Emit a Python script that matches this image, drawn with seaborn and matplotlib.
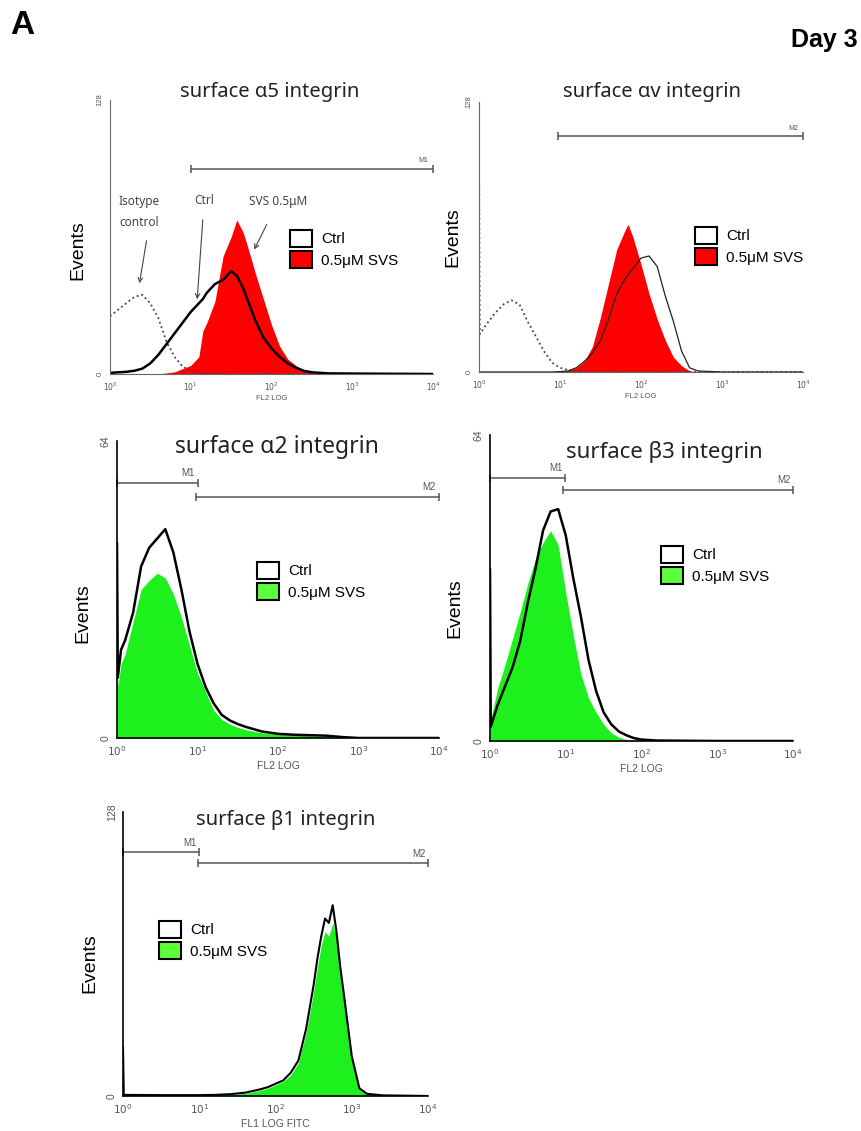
import numpy as np
import seaborn as sns
import matplotlib
matplotlib.use('Agg')
import matplotlib.pyplot as plt
from matplotlib.patches import Patch
from matplotlib.ticker import LogLocator, NullFormatter

# channel positions (log10 of fluorescence) and event counts
a5_log = [0.0, 0.1, 0.2, 0.3, 0.4, 0.5, 0.6, 0.7, 0.8, 0.9, 1.0, 1.1, 1.15, 1.2, 1.3, 1.4,
          1.5, 1.57, 1.65, 1.7, 1.8, 1.9, 2.0, 2.1, 2.2, 2.3, 2.4, 2.5, 2.7, 3.0, 4.0]
a5_iso = [27, 30, 33, 36, 37, 33, 26, 15, 8, 3.5, 1.5, 0.5, 0.3, 0.2, 0, 0,
          0, 0, 0, 0, 0, 0, 0, 0, 0, 0, 0, 0, 0, 0, 0]
a5_ctrl = [0.5, 0.8, 1, 1.5, 2.5, 5, 9, 14, 19, 24, 29, 33, 35, 38, 42, 44,
           48, 46, 40, 35, 25, 17, 12, 8, 5, 3, 1.5, 0.8, 0.3, 0.2, 0]
a5_svs = [0, 0, 0, 0, 0, 0, 0, 0.5, 1, 2.5, 4, 8, 20, 24, 34, 55,
          64, 72, 66, 60, 47, 35, 23, 13, 7, 4, 1.5, 0.5, 0, 0, 0]

av_log = [0.0, 0.01, 0.1, 0.2, 0.3, 0.4, 0.5, 0.6, 0.7, 0.8, 0.9, 1.0, 1.1, 1.2, 1.3, 1.4,
          1.5, 1.6, 1.7, 1.8, 1.84, 1.9, 2.0, 2.1, 2.2, 2.3, 2.4, 2.5, 2.6, 2.7, 3.0, 4.0]
av_iso = [107, 18, 23, 28, 32, 34, 32, 24, 17, 10, 4.5, 2, 1, 0.5, 0, 0,
          0, 0, 0, 0, 0, 0, 0, 0, 0, 0, 0, 0, 0, 0, 0, 0]
av_ctrl = [0, 0, 0, 0, 0, 0, 0, 0, 0, 0, 0, 0.2, 0.5, 2, 5, 9,
           15, 25, 37, 44, 46, 49, 54, 55, 50, 36, 24, 10, 2, 0.5, 0, 0]
av_svs = [0, 0, 0, 0, 0, 0, 0, 0, 0, 0, 0, 0.2, 0.8, 2, 5, 12,
          26, 42, 58, 67, 70, 64, 51, 37, 25, 15, 7, 3, 0.5, 0, 0, 0]

a2_log = [0.0, 0.01, 0.05, 0.1, 0.2, 0.3, 0.4, 0.5, 0.6, 0.7, 0.8, 0.9, 1.0, 1.1,
          1.2, 1.3, 1.4, 1.5, 1.6, 1.8, 2.0, 2.2, 2.4, 2.6, 2.8, 3.0, 4.0]
a2_ctrl = [42, 13, 19, 21, 27, 37, 41, 43, 45, 40, 32, 23, 16, 11,
           7.5, 5, 3.8, 3, 2.4, 1.4, 0.9, 0.7, 0.6, 0.5, 0.2, 0, 0]
a2_svs = [30, 11, 16, 18, 25, 32, 34, 35.5, 34.5, 31, 26, 20, 14, 10,
          6, 4, 3, 2.3, 1.8, 1.1, 0.8, 0.6, 0.5, 0.3, 0.1, 0, 0]

b3_log = [0.0, 0.01, 0.1, 0.2, 0.3, 0.4, 0.5, 0.6, 0.7, 0.8, 0.9, 1.0, 1.1,
          1.2, 1.3, 1.4, 1.5, 1.6, 1.7, 1.8, 1.9, 2.0, 2.2, 3.0, 4.0]
b3_ctrl = [36, 3, 7.5, 11.5, 15.5, 21, 29, 36, 44, 48, 48.5, 43, 34,
           26, 17, 10.5, 6, 3.5, 2, 1.2, 0.6, 0.3, 0.1, 0, 0]
b3_svs = [20, 4.5, 11, 16, 21.5, 27, 33, 38, 41.5, 44, 41, 31, 22,
          14, 9, 6, 3.5, 1.7, 0.8, 0.3, 0.1, 0, 0, 0, 0]

b1_log = [0.0, 0.01, 0.5, 1.0, 1.2, 1.4, 1.6, 1.8, 1.9, 2.0, 2.1, 2.2, 2.3, 2.4,
          2.5, 2.55, 2.6, 2.65, 2.7, 2.75, 2.8, 2.85, 2.9, 3.0, 3.1, 3.2, 3.4, 4.0]
b1_ctrl = [22, 0.5, 0.4, 0.4, 0.5, 0.8, 1.5, 3, 4, 5.5, 7, 10.5, 16, 30,
           50, 62, 72, 80, 78, 86, 74, 58, 45, 18, 3.5, 1, 0.3, 0]
b1_svs = [0, 0.3, 0.3, 0.3, 0.4, 0.6, 1.2, 2.5, 3.5, 5, 6.5, 9.5, 15, 28,
          47, 58, 68, 74, 72, 78, 72, 57, 44, 17, 3, 0.8, 0.2, 0]

decade_labels = ['$10^0$', '$10^1$', '$10^2$', '$10^3$', '$10^4$']
legend_labels = ['Ctrl', '0.5\u03bcM SVS']

RED = '#ff0000'
GREEN = '#1ef01e'
GREEN_KEY = '#5cff3c'

sns.set_style('white')
plt.rcParams['font.family'] = ['Liberation Sans', 'DejaVu Sans']
plt.rcParams['text.color'] = 'black'
TITLE_FONT = ['Noto Sans', 'DejaVu Sans']

W, H = 861, 1131
fig = plt.figure(figsize=(W / 100, H / 100), dpi=100)


def fpos(x, y):
    return (x / W, 1 - y / H)


def add_box(x0, y0, x1, y1):
    return fig.add_axes([x0 / W, 1 - y1 / H, (x1 - x0) / W, (y1 - y0) / H])


def style_axes(ax, ymax, fs, xlabel, spine_col, spine_lw):
    ax.set_xscale('log')
    ax.set_xlim(1, 1e4)
    ax.set_ylim(0, ymax)
    ax.set_facecolor('none')
    ax.grid(False)
    for s in ['top', 'right']:
        ax.spines[s].set_visible(False)
    for s in ['left', 'bottom']:
        ax.spines[s].set_color(spine_col)
        ax.spines[s].set_linewidth(spine_lw)
    ax.set_xticks([1, 10, 100, 1000, 10000])
    ax.set_xticklabels(decade_labels)
    ax.xaxis.set_minor_locator(LogLocator(base=10, subs=np.arange(2, 10), numticks=20))
    ax.xaxis.set_minor_formatter(NullFormatter())
    yt = np.linspace(0, ymax, 5)
    ax.set_yticks(yt)
    ax.set_yticklabels(['0', '', '', '', str(ymax)])
    ax.tick_params(which='major', direction='out', length=3, width=0.8,
                   color=spine_col, labelsize=fs, labelcolor='#555', pad=1.5)
    ax.tick_params(which='minor', direction='out', length=1.6, width=0.6, color=spine_col)
    for lbl in ax.get_yticklabels():
        lbl.set_rotation(90)
        lbl.set_va('center')
    ax.set_xlabel(xlabel, fontsize=fs, color='#555', labelpad=2)
    ax.set_ylabel('')


def hist_line(ax, xlog, y, **kw):
    sns.lineplot(x=10 ** np.asarray(xlog), y=y, ax=ax, legend=False, **kw)


def hist_fill(ax, xlog, y, color):
    ax.fill_between(10 ** np.asarray(xlog), y, color=color, lw=0)


def gate(ax, x0, x1, y, label, fs, ymax):
    ax.plot([10 ** x0, 10 ** x1], [y, y], color='#555', lw=1.1, marker='|',
            markersize=6, markeredgewidth=1.1, clip_on=False)
    ax.text(10 ** (x1 - 0.12), y + ymax * 0.015, label, ha='center', va='bottom',
            fontsize=fs, color='#555')


def key(x, y, fill):
    handles = [Patch(facecolor='white', edgecolor='black', lw=1.5),
               Patch(facecolor=fill, edgecolor='black', lw=1.5)]
    fig.legend(handles, legend_labels, loc='upper left', bbox_to_anchor=fpos(x, y),
               frameon=False, fontsize=11, handlelength=1.45, handleheight=1.3,
               handletextpad=0.6, labelspacing=0.3, borderpad=0, borderaxespad=0,
               labelcolor='black')


def events(x, y):
    fig.text(*fpos(x, y), 'Events', rotation=90, ha='center', va='center',
             fontsize=14, color='black')


def title(x, y, text, size):
    fig.text(*fpos(x, y), text, ha='center', va='center', fontsize=size,
             family=TITLE_FONT, color='#222')


# header
fig.text(*fpos(10, 26), 'A', fontsize=24, fontweight='bold', ha='left', va='center',
         color='black')
fig.text(*fpos(858, 40), 'Day 3', fontsize=18, fontweight='bold', ha='right', va='center',
         color='black')

# surface a5 integrin
ax = add_box(110, 100, 433, 374)
hist_fill(ax, a5_log, a5_svs, RED)
hist_line(ax, a5_log, a5_iso, color='#444', linewidth=1.3, linestyle=':')
hist_line(ax, a5_log, a5_ctrl, color='black', linewidth=1.8)
style_axes(ax, 128, 5.5, 'FL2 LOG', '#666', 0.8)
gate(ax, 1.0, 4.0, 96, 'M1', 5, 128)
title(270, 92, 'surface \u03b15 integrin', 14.5)
events(78, 250)
key(290, 230, RED)
note = dict(fontsize=8.5, color='#444', family=TITLE_FONT, ha='center', va='center')
fig.text(*fpos(139, 201), 'Isotype', **note)
fig.text(*fpos(139, 222), 'control', **note)
fig.text(*fpos(204, 201), 'Ctrl', **note)
fig.text(*fpos(278, 201), 'SVS 0.5\u03bcM', **note)
arrow = dict(arrowstyle='->', color='#444', lw=0.8, mutation_scale=8)
for start, end in [((147, 238), (139, 286)), ((203, 217), (197, 302)),
                   ((268, 222), (253, 252))]:
    ax.annotate('', xy=fpos(*end), xycoords='figure fraction',
                xytext=fpos(*start), textcoords='figure fraction', arrowprops=arrow)

# surface av integrin
ax = add_box(479, 102, 803, 372)
hist_fill(ax, av_log, av_svs, RED)
hist_line(ax, av_log, av_iso, color='#444', linewidth=1.3, linestyle=':')
hist_line(ax, av_log, av_ctrl, color='#222', linewidth=0.9)
style_axes(ax, 128, 5.5, 'FL2 LOG', '#666', 0.8)
gate(ax, 0.97, 4.0, 112, 'M2', 5, 128)
title(652, 92, 'surface \u03b1v integrin', 14.5)
events(453, 237)
key(695, 227, RED)

# surface a2 integrin
ax = add_box(117, 441, 439, 738)
hist_fill(ax, a2_log, a2_svs, GREEN)
hist_line(ax, a2_log, a2_ctrl, color='black', linewidth=1.8)
style_axes(ax, 64, 7.5, 'FL2 LOG', 'black', 1.2)
gate(ax, 0.0, 1.0, 55, 'M1', 7, 64)
gate(ax, 0.98, 4.0, 52, 'M2', 7, 64)
title(277, 447, 'surface \u03b12 integrin', 16.5)
events(83, 613)
key(257, 562, GREEN_KEY)

# surface b3 integrin
ax = add_box(490, 435, 793, 741)
hist_fill(ax, b3_log, b3_svs, GREEN)
hist_line(ax, b3_log, b3_ctrl, color='black', linewidth=1.8)
style_axes(ax, 64, 7.5, 'FL2 LOG', 'black', 1.2)
gate(ax, 0.0, 0.99, 55, 'M1', 7, 64)
gate(ax, 0.97, 4.0, 52.5, 'M2', 7, 64)
title(664, 452, 'surface \u03b23 integrin', 16)
events(455, 608)
key(661, 546, GREEN_KEY)

# surface b1 integrin
ax = add_box(123, 812, 428, 1096)
hist_fill(ax, b1_log, b1_svs, GREEN)
hist_line(ax, b1_log, b1_ctrl, color='black', linewidth=1.5)
style_axes(ax, 128, 7.5, 'FL1 LOG FITC', 'black', 1.2)
gate(ax, 0.0, 1.0, 110, 'M1', 7, 128)
gate(ax, 0.98, 4.0, 105, 'M2', 7, 128)
title(286, 820, 'surface \u03b21 integrin', 14.5)
events(90, 963)
key(159, 921, GREEN_KEY)

fig.savefig('out.png', dpi=100)
